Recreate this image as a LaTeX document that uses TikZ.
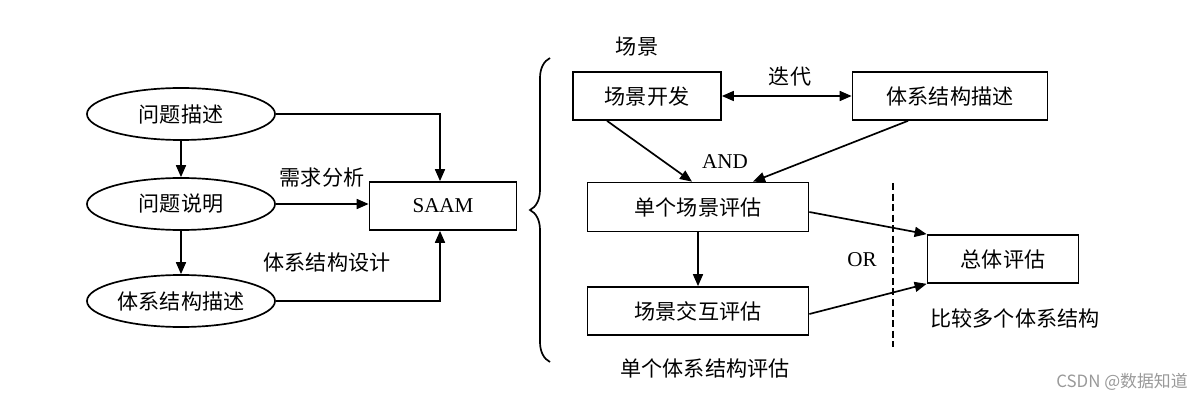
\documentclass[tikz,border=0pt]{standalone}
\usepackage{fontspec}
\setmainfont{Liberation Serif}
\newfontfamily\cjk{Noto Sans CJK SC}
\usetikzlibrary{arrows.meta,shapes.geometric,decorations.pathreplacing}

\begin{document}
\begin{tikzpicture}[x=0.025cm, y=-0.025cm,
		every node/.style={font=\fontsize{15}{18}\selectfont},
		lbl/.style={font=\cjk\fontsize{15}{18}\selectfont},
		oval/.style={lbl, draw, ellipse, line width=1.2pt, minimum width=4.7cm, minimum height=1.3cm, inner sep=0pt},
		box/.style={draw, rectangle, line width=1.2pt, minimum height=1.2cm, inner sep=0pt},
		arr/.style={line width=1.2pt, -{Triangle[length=0.3cm, width=0.25cm]}},
		dbl/.style={line width=1.2pt, {Triangle[length=0.3cm, width=0.25cm]}-{Triangle[length=0.3cm, width=0.25cm]}}]
		%%%%% START %%%%%
		
		\useasboundingbox (0, 0) rectangle (1204, 400);
		
		% left part
		\node[oval] (wtms) at (181, 114) {问题描述};
		\node[oval] (wtsm) at (181, 204) {问题说明};
		\node[oval] (txms) at (181, 301) {体系结构描述};
		\node[box, minimum width=3.675cm] (saam) at (443, 206) {SAAM};
		
		\node[lbl] (xqfx) at (322, 178) {需求分析};
		\node[lbl] (txsj) at (327, 263) {体系结构设计};
		
		\draw[arr] (wtms) -- (wtsm);
		\draw[arr] (wtsm) -- (txms);
		\draw[arr] (wtms.east) -| ([xshift=-0.075cm]saam.north);
		\draw[arr] (wtsm.east) -- (wtsm.east -| saam.west);
		\draw[arr] (txms.east) -| ([xshift=-0.075cm]saam.south);
		
		% brace
		\coordinate (bracebot) at (550, 362);
		\coordinate (bracetop) at (550, 58);
		\draw[line width=1.2pt, decorate, decoration={brace, amplitude=0.5cm}] (bracebot) -- (bracetop);
		
		% right part
		\node[box, lbl, minimum width=3.7cm] (cjkf) at (647, 96) {场景开发};
		\node[box, lbl, minimum width=4.875cm] (txjg) at (950, 96) {体系结构描述};
		\node[box, lbl, minimum width=5.525cm, minimum height=1.225cm] (dgpg) at (698, 207) {单个场景评估};
		\node[box, lbl, minimum width=5.525cm] (jhpg) at (698, 311) {场景交互评估};
		\node[box, lbl, minimum width=3.775cm] (ztpg) at (1003, 259) {总体评估};
		
		\node[lbl] (cj) at (637, 47) {场景};
		\node[lbl] (dd) at (790, 77) {迭代};
		\node (and) at (725, 162) {AND};
		\node (or) at (862, 260) {OR};
		\node[lbl] (bjdg) at (1015, 318) {比较多个体系结构};
		\node[lbl] (dgtx) at (705, 368) {单个体系结构评估};
		
		\draw[dbl] (cjkf) -- (txjg);
		\draw[arr] ([xshift=-1cm]cjkf.south) -- ([xshift=-0.15cm]dgpg.north);
		\draw[arr] ([xshift=-1.05cm]txjg.south) -- ([xshift=1.375cm]dgpg.north);
		\draw[arr] (dgpg) -- (jhpg);
		\draw[arr] ([yshift=-0.125cm]dgpg.east) -- (ztpg.north west);
		\draw[arr] ([yshift=-0.075cm]jhpg.east) -- (ztpg.south west);
		
		\coordinate (sepa) at (893, 183);
		\coordinate (sepb) at (893, 347);
		\draw[line width=1.2pt, dash pattern=on 5pt off 2.5pt] (sepa) -- (sepb);
		
		\node[font=\cjk\fontsize{12}{14}\selectfont, text=black!40] (csdn) at (1122, 382) {CSDN @数据知道};
		
		%%%%% END %%%%%
	\end{tikzpicture}
\end{document}
